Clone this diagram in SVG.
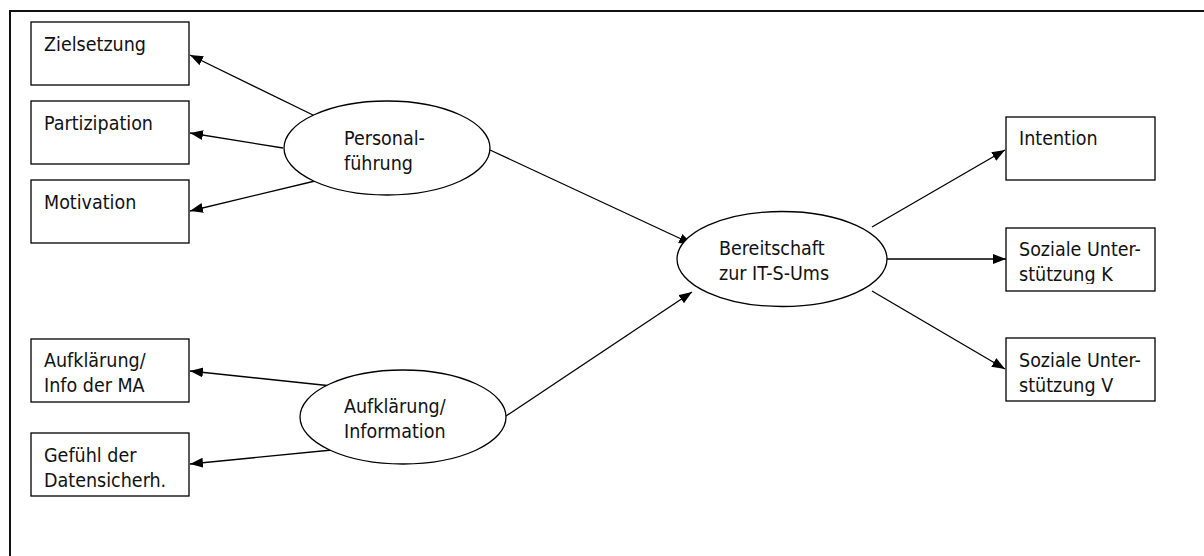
<svg xmlns="http://www.w3.org/2000/svg" width="1204" height="556" viewBox="0 0 1204 556">
  <defs>
    <marker id="arrow" markerUnits="userSpaceOnUse" markerWidth="14" markerHeight="11" refX="13" refY="5" orient="auto">
      <path d="M0,0 L13,5 L0,10 z" fill="#000"/>
    </marker>
    <clipPath id="clipK">
      <rect x="1006" y="228" width="150" height="56"/>
    </clipPath>
  </defs>
  <style>
    .box { fill: #fff; stroke: #000; stroke-width: 1.3; }
    .ell { fill: #fff; stroke: #000; stroke-width: 1.3; }
    .lbl { font-family: "DejaVu Sans Condensed", "DejaVu Sans", Verdana, sans-serif; font-stretch: condensed; font-size: 19.5px; fill: #111; }
    .edge { stroke: #000; stroke-width: 1.3; fill: none; marker-end: url(#arrow); }
  </style>

  <rect width="1204" height="556" fill="#fff"/>
  <!-- outer frame, runs past the right and bottom edges -->
  <rect x="10" y="11" width="1300" height="700" fill="none" stroke="#111" stroke-width="2"/>

  <g id="connectors">
    <line class="edge" x1="315" y1="116" x2="190" y2="55"/>
    <line class="edge" x1="283" y1="148" x2="190" y2="133"/>
    <line class="edge" x1="315" y1="181" x2="190" y2="211"/>
    <line class="edge" x1="332" y1="386" x2="190" y2="371"/>
    <line class="edge" x1="332" y1="450" x2="190" y2="464"/>
    <line class="edge" x1="490" y1="150" x2="692" y2="244"/>
    <line class="edge" x1="506" y1="416" x2="692" y2="292"/>
    <line class="edge" x1="872" y1="227" x2="1005" y2="150"/>
    <line class="edge" x1="887" y1="259" x2="1006" y2="259"/>
    <line class="edge" x1="872" y1="291" x2="1005" y2="369"/>
  </g>

  <g id="zielsetzung">
    <rect class="box" x="31" y="22" width="158" height="63"/>
    <text class="lbl" x="44" y="51">Zielsetzung</text>
  </g>
  <g id="partizipation">
    <rect class="box" x="31" y="101" width="158" height="63"/>
    <text class="lbl" x="44" y="130">Partizipation</text>
  </g>
  <g id="motivation">
    <rect class="box" x="31" y="180" width="158" height="63"/>
    <text class="lbl" x="44" y="209">Motivation</text>
  </g>
  <g id="aufklaerung-info-ma">
    <rect class="box" x="31" y="339" width="158" height="63"/>
    <text class="lbl" x="44" y="367">Aufklärung/</text>
    <text class="lbl" x="44" y="392">Info der MA</text>
  </g>
  <g id="gefuehl-datensicherheit">
    <rect class="box" x="31" y="433" width="158" height="63"/>
    <text class="lbl" x="44" y="462">Gefühl der</text>
    <text class="lbl" x="44" y="487">Datensicherh.</text>
  </g>

  <g id="personalfuehrung">
    <ellipse class="ell" cx="387" cy="148" rx="103" ry="47"/>
    <text class="lbl" x="344" y="145">Personal-</text>
    <text class="lbl" x="344" y="170">führung</text>
  </g>
  <g id="aufklaerung-information">
    <ellipse class="ell" cx="403" cy="417" rx="103" ry="47"/>
    <text class="lbl" x="344" y="413">Aufklärung/</text>
    <text class="lbl" x="344" y="438">Information</text>
  </g>
  <g id="bereitschaft">
    <ellipse class="ell" cx="782" cy="259" rx="105" ry="47.5"/>
    <text class="lbl" x="719" y="255">Bereitschaft</text>
    <text class="lbl" x="719" y="280">zur IT-S-Ums</text>
  </g>

  <g id="intention">
    <rect class="box" x="1006" y="117" width="149" height="63"/>
    <text class="lbl" x="1019" y="145">Intention</text>
  </g>
  <g id="soziale-unterstuetzung-k">
    <rect class="box" x="1006" y="228" width="149" height="63"/>
    <g clip-path="url(#clipK)">
      <text class="lbl" x="1019" y="256">Soziale Unter-</text>
      <text class="lbl" x="1019" y="281">stützung K</text>
    </g>
  </g>
  <g id="soziale-unterstuetzung-v">
    <rect class="box" x="1006" y="338" width="149" height="63"/>
    <text class="lbl" x="1019" y="367">Soziale Unter-</text>
    <text class="lbl" x="1019" y="392">stützung V</text>
  </g>
</svg>
